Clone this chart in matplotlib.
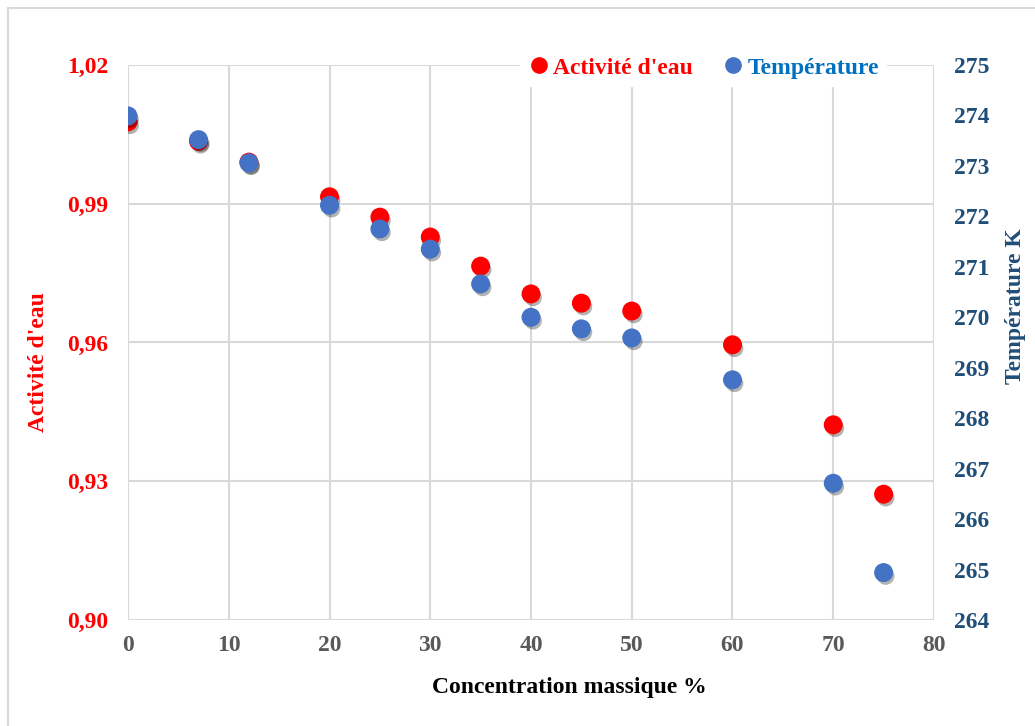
import matplotlib.pyplot as plt
import matplotlib.patheffects as pe
from matplotlib.lines import Line2D
from matplotlib.patches import Rectangle

plt.rcParams['font.family'] = ['Liberation Serif', 'DejaVu Serif']

# donnees
concentration = [0, 7, 12, 20, 25, 30, 35, 40, 45, 50, 60, 70, 75]
activite = [1.0077, 1.0035, 0.9990, 0.9915, 0.9871, 0.9828, 0.9765,
            0.9705, 0.9685, 0.9668, 0.9595, 0.9422, 0.9272]
temperature = [273.99, 273.52, 273.06, 272.22, 271.75, 271.35, 270.66,
               270.0, 269.77, 269.59, 268.76, 266.71, 264.94]
x_ticks = [0, 10, 20, 30, 40, 50, 60, 70, 80]
y1_ticks = [0.90, 0.93, 0.96, 0.99, 1.02]
y2_ticks = list(range(264, 276))

red = '#FF0000'
blue = '#4472C4'
dark_blue = '#1F4E79'
grid_col = '#D9D9D9'

fig = plt.figure(figsize=(10.35, 7.26), dpi=100)
# cadre du graphique (coupe a droite et en bas)
fig.patches.append(Rectangle((0.008, -0.02), 1.1, 1.0090, transform=fig.transFigure,
                             fill=False, edgecolor=grid_col, linewidth=1.5))
ax1 = fig.add_axes([0.1237, 0.146, 0.7787, 0.7645])
ax2 = ax1.twinx()

shadow = [pe.SimplePatchShadow(offset=(1.5, -2.5), shadow_rgbFace='black', alpha=0.3), pe.Normal()]

ax1.scatter(concentration, activite, s=160, color=red, zorder=3, path_effects=shadow)
ax2.scatter(concentration, temperature, s=160, color=blue, zorder=3, path_effects=shadow)

ax1.set_xlim(0, 80)
ax1.set_ylim(0.90, 1.02)
ax2.set_ylim(264, 275)
ax1.set_xticks(x_ticks)
ax1.set_yticks(y1_ticks)
ax2.set_yticks(y2_ticks)
ax1.set_yticklabels([f'{v:.2f}'.replace('.', ',') for v in y1_ticks])
ax1.set_xticklabels([str(v) for v in x_ticks])

ax1.grid(True, color=grid_col, linewidth=1.5)
ax1.set_axisbelow(True)
for ax in (ax1, ax2):
    for s in ax.spines.values():
        s.set_visible(False)
    ax.tick_params(length=0)
ax2.patch.set_visible(False)

ax1.tick_params(axis='y', labelsize=17, labelcolor=red, pad=14.4)
ax1.tick_params(axis='x', labelsize=17, labelcolor='#595959', pad=11)
ax2.tick_params(axis='y', labelsize=17, labelcolor=dark_blue, pad=14.4)
for lab in ax1.get_xticklabels() + ax1.get_yticklabels() + ax2.get_yticklabels():
    lab.set_fontweight('bold')

fig.text(0.55, 1 - 688 / 726, 'Concentration massique %', fontsize=17, fontweight='bold',
         ha='center', va='center')
fig.text(38 / 1035, 1 - 362 / 726, "Activité d'eau", fontsize=17, fontweight='bold', color=red,
         rotation=90, ha='center', va='center')
fig.text(1015 / 1035, 1 - 306 / 726, 'Température K', fontsize=17, fontweight='bold',
         color=dark_blue, rotation=90, ha='center', va='center')

handles = [Line2D([], [], marker='o', linestyle='none', color=red, markersize=11),
           Line2D([], [], marker='o', linestyle='none', color=blue, markersize=11)]
leg = ax2.legend(handles, ["Activité d'eau", 'Température'], ncol=2, loc='center right',
                 bbox_to_anchor=(0.955, 0.995), frameon=True, facecolor='white', edgecolor='white',
                 framealpha=1, fancybox=False, handletextpad=0.1, columnspacing=1.2,
                 handlelength=1.0, prop={'size': 17, 'weight': 'bold'}, borderpad=0.3)
leg.get_texts()[0].set_color(red)
leg.get_texts()[1].set_color('#0070C0')

fig.savefig('out.png', dpi=100)
